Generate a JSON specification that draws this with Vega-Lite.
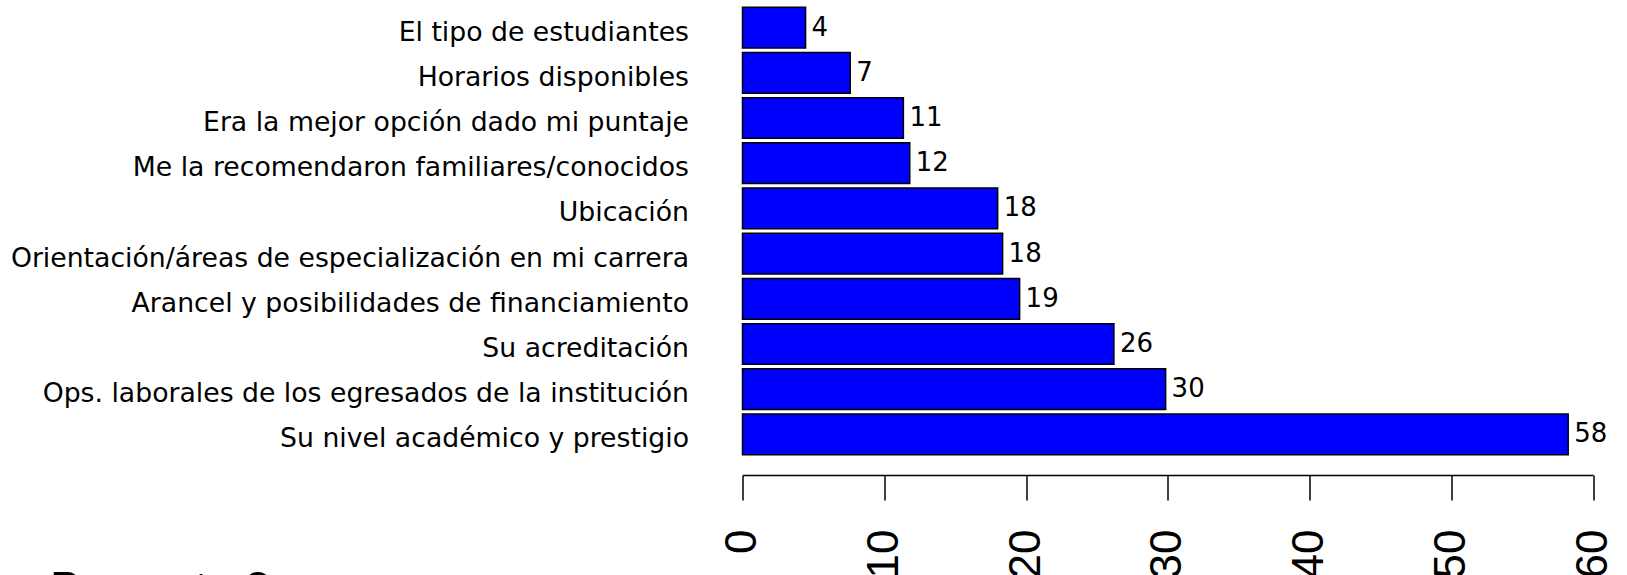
{
  "$schema": "https://vega.github.io/schema/vega-lite/v6.json",
  "width": 850.5,
  "height": 452,
  "autosize": {"type": "none"},
  "padding": {"left": 742.5, "top": 5, "right": 34, "bottom": 118},
  "background": "white",
  "config": {"view": {"stroke": null}, "font": "DejaVu Sans"},
  "data": {
    "values": [
      {"razon": "El tipo de estudiantes", "valor": 4, "barra": 4.45},
      {"razon": "Horarios disponibles", "valor": 7, "barra": 7.6},
      {"razon": "Era la mejor opción dado mi puntaje", "valor": 11, "barra": 11.35},
      {"razon": "Me la recomendaron familiares/conocidos", "valor": 12, "barra": 11.8},
      {"razon": "Ubicación", "valor": 18, "barra": 18.0},
      {"razon": "Orientación/áreas de especialización en mi carrera", "valor": 18, "barra": 18.35},
      {"razon": "Arancel y posibilidades de financiamiento", "valor": 19, "barra": 19.55},
      {"razon": "Su acreditación", "valor": 26, "barra": 26.2},
      {"razon": "Ops. laborales de los egresados de la institución", "valor": 30, "barra": 29.85},
      {"razon": "Su nivel académico y prestigio", "valor": 58, "barra": 58.25}
    ]
  },
  "encoding": {
    "y": {
      "field": "razon",
      "type": "nominal",
      "sort": null,
      "scale": {"paddingInner": 0.1, "paddingOuter": 0.05},
      "axis": {
        "title": null,
        "domain": false,
        "ticks": false,
        "labelFont": "DejaVu Sans",
        "labelFontSize": 26.7,
        "labelColor": "black",
        "labelPadding": 54,
        "labelLimit": 0,
        "labelOffset": 5
      }
    }
  },
  "layer": [
    {
      "mark": {"type": "bar", "fill": "#0000FF", "stroke": "black", "strokeWidth": 1.5},
      "encoding": {
        "x": {
          "field": "barra",
          "type": "quantitative",
          "scale": {"domain": [0, 60], "nice": false},
          "axis": {
            "values": [0, 10, 20, 30, 40, 50, 60],
            "grid": false,
            "offset": 18,
            "domainColor": "black",
            "domainWidth": 1.5,
            "tickColor": "black",
            "tickWidth": 1.5,
            "tickSize": 25,
            "labelAngle": -90,
            "labelFont": "Liberation Sans",
            "labelFontSize": 44,
            "labelColor": "black",
            "labelPadding": 29,
            "labelFlush": false,
            "labelOverlap": false,
            "title": "Pregunta 8",
            "titleFont": "Liberation Sans",
            "titleFontSize": 45,
            "titleFontWeight": "normal",
            "titleColor": "black",
            "titleAngle": 0,
            "titleAlign": "left",
            "titleBaseline": "alphabetic",
            "titleX": -693,
            "titleY": 127
          }
        }
      }
    },
    {
      "mark": {"type": "text", "align": "left", "baseline": "middle", "dx": 6, "font": "DejaVu Sans", "fontSize": 26, "color": "black"},
      "encoding": {
        "x": {"field": "barra", "type": "quantitative"},
        "text": {"field": "valor", "type": "quantitative"}
      }
    }
  ]
}
